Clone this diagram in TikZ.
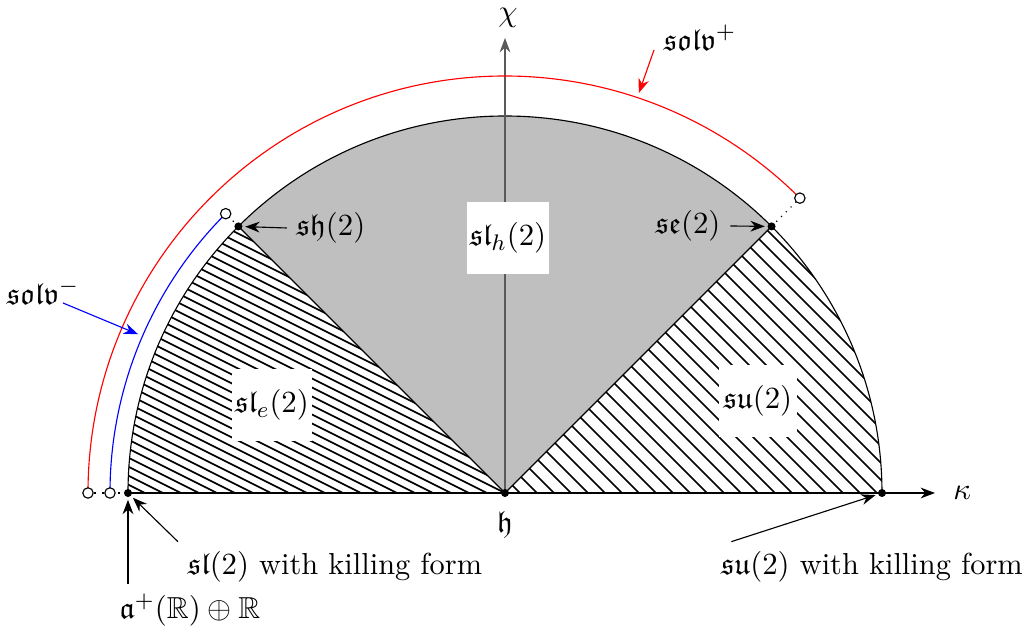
\documentclass[tikz,border=0pt]{standalone}
\usepackage{amsmath,amssymb}
\usepackage{xcolor}
\usepackage{tikz}
\usetikzlibrary{calc,arrows.meta,positioning}
\definecolor{axc}{HTML}{5A5A5A}
\tikzset{
  ar/.style={-{Stealth[length=1.8mm]},thin,shorten >=1pt},
  lbl/.style={fill=white,minimum width=0.98cm,minimum height=0.9cm,inner sep=1pt},
  pt/.style={circle,draw,fill=black,inner sep=0pt,minimum size=0.085cm},
  opn/.style={circle,draw,fill=white,inner sep=0pt,minimum size=0.13cm},
  hl/.style={line width=0.6pt}
}
\begin{document}
\begin{tikzpicture}[x=0.0125cm,y=0.0125cm,font=\fontsize{10.8}{13}\selectfont]
\useasboundingbox (-505,-138) rectangle (520,493);
\coordinate (O) at (0,0);
\coordinate (A) at (180:377);
\coordinate (B) at (135:377);
\coordinate (C) at (45:377);
\coordinate (D) at (0:377);
% sectors
\fill[lightgray] (O) -- (C) arc[start angle=45,end angle=135,radius=377] -- cycle;
\begin{scope}
\clip (O) -- (B) arc[start angle=135,end angle=180,radius=377] -- cycle;
\foreach \c in {-378,-360,...,270} \draw[hl] (\c-800,400) -- (\c+800,-400);
\end{scope}
\begin{scope}
\clip (O) -- (D) arc[start angle=0,end angle=45,radius=377] -- cycle;
\foreach \c in {15,32,...,560} \draw[hl] (\c-600,600) -- (\c+600,-600);
\end{scope}
\draw (A) arc[start angle=180,end angle=0,radius=377];
\draw (O) -- (B);
\draw (O) -- (C);
% axes
\draw[ar,axc,shorten >=0pt] (O) -- (0,455);
\node (chi) at (3,475) {$\chi$};
\draw[ar,shorten >=0pt] (A) -- (430,0) node[right=3pt] (kap) {$\kappa$};
% solv arcs
\draw[red] (180:417) arc[start angle=180,end angle=45,radius=417];
\draw[blue] (180:395) arc[start angle=180,end angle=135,radius=395];
\draw[dotted,thick] (A) -- (180:417);
\draw[dotted] (B) -- (135:395);
\draw[dotted] (C) -- (45:417);
\node[opn] (r1) at (180:417) {};
\node[opn] (r2) at (45:417) {};
\node[opn] (b1) at (180:395) {};
\node[opn] (b2) at (135:395) {};
\foreach \p in {O,A,B,C,D} \node[pt] (d\p) at (\p) {};
% region labels
\node[lbl] (slh) at (3,255) {$\mathfrak{sl}_h(2)$};
\node[lbl] (sle) at (-233,88) {$\mathfrak{sl}_e(2)$};
\node[lbl] (su) at (253,92) {$\mathfrak{su}(2)$};
\node[below=3pt of O] (h) {$\mathfrak{h}$};
% point labels
\node (sh) at (-174,265) {$\mathfrak{sh}(2)$};
\draw[ar] (sh.west) -- (dB);
\node (se) at (183,267) {$\mathfrak{se}(2)$};
\draw[ar] (se.east) -- (dC);
\node (slk) at (-170,-74) {$\mathfrak{sl}(2)$ with killing form};
\draw[ar] (slk.north west) -- (dA);
\node (ar) at (-315,-117) {$\mathfrak{a}^+(\mathbb{R})\oplus\mathbb{R}$};
\draw[ar] (A |- ar.north) -- (dA);
\node (suk) at (367,-74) {$\mathfrak{su}(2)$ with killing form};
\draw[ar] ($(suk.north west)+(20,0)$) -- (dD);
% solv labels
\node (solp) at (195,455) {$\mathfrak{solv}^+$};
\draw[ar,red] (149,443) -- (71.5:419);
\node (solm) at (-462,201) {$\mathfrak{solv}^-$};
\draw[ar,blue] (-442,190) -- (156.6:397);
\end{tikzpicture}
\end{document}
